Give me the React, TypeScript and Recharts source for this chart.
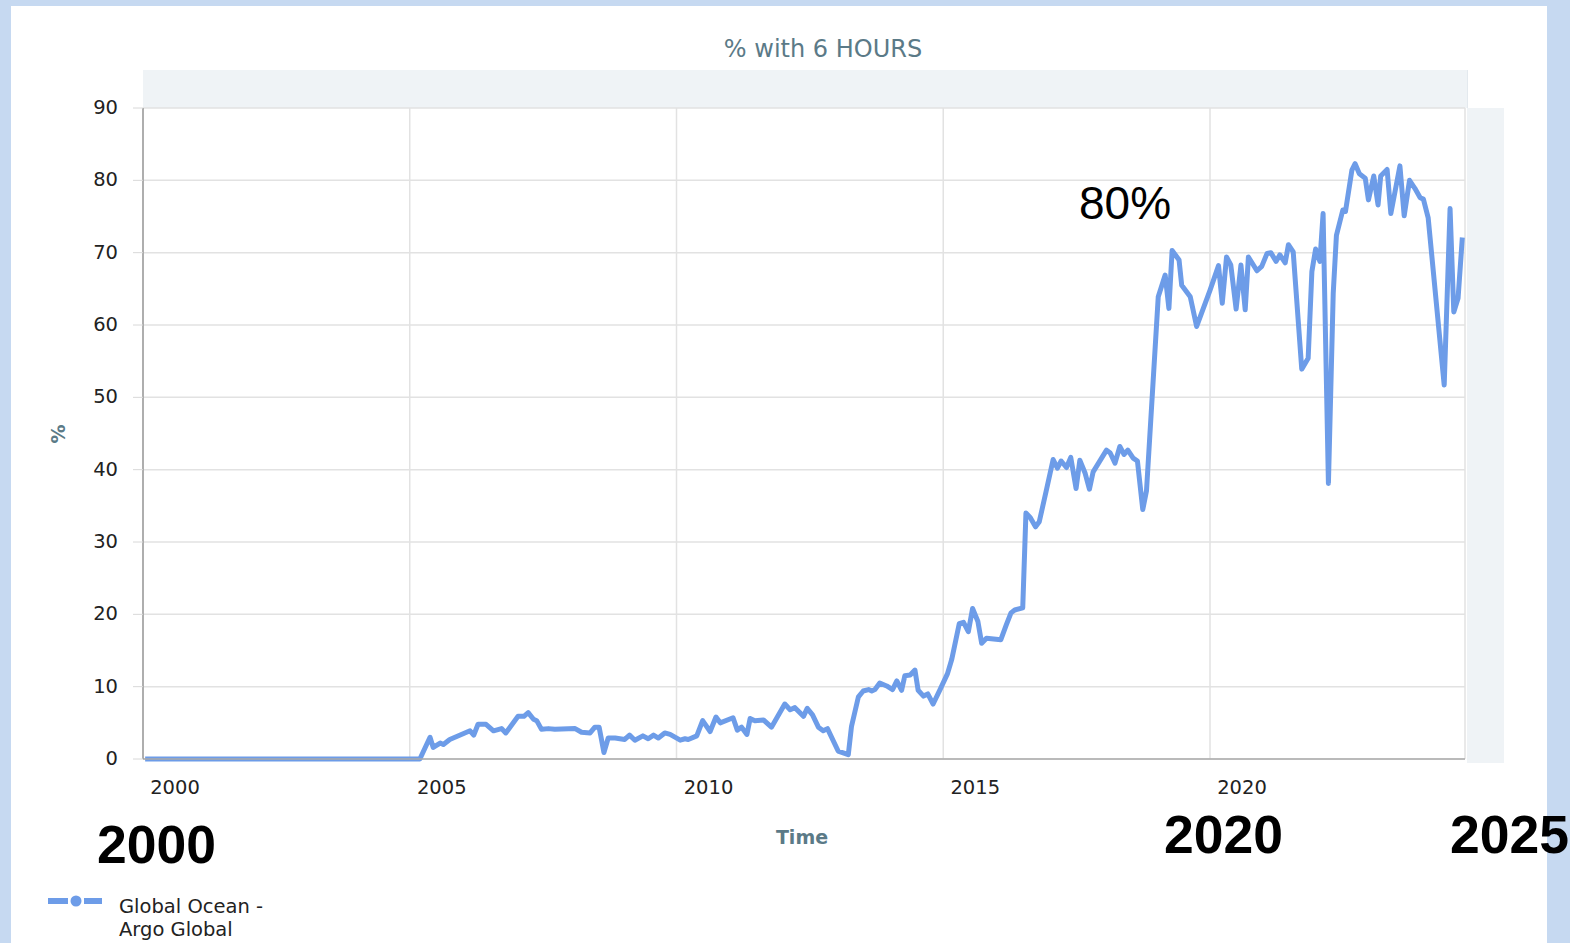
import React from 'react';
import { LineChart, Line, XAxis, YAxis, CartesianGrid, Legend } from 'recharts';

const years: number[] = [
  2000.04, 2005.19, 2005.38, 2005.44, 2005.57, 2005.63, 2005.75, 2006.0, 2006.13, 2006.2,
  2006.28, 2006.43, 2006.57, 2006.72, 2006.8, 2007.03, 2007.14, 2007.22, 2007.32, 2007.38,
  2007.47, 2007.6, 2007.72, 2008.1, 2008.22, 2008.38, 2008.47, 2008.55, 2008.64, 2008.72,
  2008.85, 2009.03, 2009.12, 2009.22, 2009.37, 2009.47, 2009.57, 2009.66, 2009.78, 2009.88,
  2010.07, 2010.16, 2010.22, 2010.38, 2010.49, 2010.63, 2010.74, 2010.82, 2011.06, 2011.14,
  2011.22, 2011.32, 2011.38, 2011.47, 2011.63, 2011.78, 2012.03, 2012.13, 2012.22, 2012.38,
  2012.45, 2012.55, 2012.66, 2012.75, 2012.83, 2013.03, 2013.22, 2013.28, 2013.41, 2013.5,
  2013.6, 2013.66, 2013.72, 2013.81, 2013.94, 2014.05, 2014.13, 2014.22, 2014.28, 2014.38,
  2014.47, 2014.53, 2014.63, 2014.71, 2014.81, 2014.94, 2015.08, 2015.16, 2015.3, 2015.38,
  2015.47, 2015.55, 2015.65, 2015.72, 2015.81, 2016.08, 2016.18, 2016.27, 2016.34, 2016.49,
  2016.55, 2016.63, 2016.73, 2016.8, 2016.94, 2017.06, 2017.14, 2017.21, 2017.31, 2017.39,
  2017.49, 2017.56, 2017.66, 2017.74, 2017.81, 2018.06, 2018.13, 2018.22, 2018.31, 2018.39,
  2018.46, 2018.56, 2018.64, 2018.74, 2018.81, 2019.03, 2019.16, 2019.23, 2019.29, 2019.42,
  2019.47, 2019.63, 2019.75, 2020.0, 2020.16, 2020.23, 2020.31, 2020.39, 2020.49, 2020.58,
  2020.66, 2020.72, 2020.88, 2020.97, 2021.07, 2021.14, 2021.24, 2021.31, 2021.41, 2021.47,
  2021.56, 2021.72, 2021.84, 2021.91, 2021.98, 2022.06, 2022.12, 2022.22, 2022.31, 2022.37,
  2022.49, 2022.54, 2022.66, 2022.72, 2022.8, 2022.91, 2022.97, 2023.07, 2023.15, 2023.2,
  2023.32, 2023.39, 2023.56, 2023.64, 2023.74, 2023.84, 2023.94, 2024.0, 2024.09, 2024.39,
  2024.5, 2024.57, 2024.65, 2024.73,
];

const pct: number[] = [
  0, 0, 3.0, 1.6, 2.2, 2.0, 2.7, 3.5, 3.9, 3.3,
  4.8, 4.8, 3.9, 4.2, 3.6, 5.9, 5.9, 6.4, 5.5, 5.3,
  4.1, 4.2, 4.1, 4.2, 3.7, 3.6, 4.4, 4.4, 0.9, 2.9,
  2.9, 2.7, 3.3, 2.6, 3.2, 2.8, 3.3, 2.9, 3.6, 3.4,
  2.6, 2.8, 2.7, 3.2, 5.3, 3.8, 5.8, 5.0, 5.7, 4.0,
  4.4, 3.4, 5.6, 5.3, 5.4, 4.4, 7.6, 6.8, 7.1, 5.9,
  7.0, 6.1, 4.4, 3.9, 4.2, 1.1, 0.6, 4.5, 8.6, 9.4,
  9.6, 9.4, 9.6, 10.5, 10.1, 9.6, 10.8, 9.5, 11.5, 11.6,
  12.3, 9.5, 8.7, 9.0, 7.6, 9.6, 11.8, 13.8, 18.7, 18.9,
  17.6, 20.8, 19.0, 16.0, 16.7, 16.5, 18.5, 20.2, 20.6, 20.9,
  34.0, 33.4, 32.1, 32.8, 37.4, 41.4, 40.2, 41.2, 40.3, 41.7,
  37.4, 41.3, 39.5, 37.3, 39.7, 42.7, 42.3, 40.9, 43.2, 42.1,
  42.7, 41.6, 41.2, 34.5, 37.1, 63.9, 66.9, 62.3, 70.3, 69.0,
  65.5, 63.9, 59.8, 64.8, 68.2, 63.0, 69.4, 68.3, 62.2, 68.3,
  62.1, 69.4, 67.5, 68.1, 69.9, 70.0, 68.8, 69.7, 68.6, 71.1,
  70.1, 53.9, 55.4, 67.4, 70.5, 68.8, 75.4, 38.1, 64.4, 72.4,
  75.9, 75.7, 81.4, 82.3, 80.9, 80.3, 77.3, 80.6, 76.6, 80.6,
  81.5, 75.4, 82.0, 75.1, 80.0, 78.9, 77.6, 77.4, 74.8, 51.7,
  76.1, 61.8, 63.7, 72.1,
];

const xTicks: number[] = [2000, 2005, 2010, 2015, 2020];
const yTicks: number[] = [0, 10, 20, 30, 40, 50, 60, 70, 80, 90];
const seriesName = 'Global Ocean - Argo Global';
const chartTitle = '% with 6 HOURS';

const data = years.map((t, i) => ({ t, v: pct[i] }));

const LINE_COLOR = '#6d9ce8';
const LABEL_COLOR = '#5b7a87';
const FONT = '"DejaVu Sans", Verdana, sans-serif';
const BIG_FONT = '"Liberation Sans", Arial, sans-serif';

const XTick = (props: any) => {
  const { x, y, payload } = props;
  return (
    <text x={x + 32} y={y + 35} textAnchor="middle" fontFamily={FONT} fontSize={19.5} fill="#222">
      {payload.value}
    </text>
  );
};

const YTick = (props: any) => {
  const { x, y, payload } = props;
  return (
    <text x={x - 15} y={y + 6} textAnchor="end" fontFamily={FONT} fontSize={19.5} fill="#222">
      {payload.value}
    </text>
  );
};

const LegendContent = () => (
  <div style={{ display: 'flex', alignItems: 'flex-start', fontFamily: FONT, fontSize: 19.5, color: '#222' }}>
    <svg width={60} height={24} style={{ flex: 'none', marginTop: -6 }}>
      <line x1={1} y1={12} x2={21} y2={12} stroke={LINE_COLOR} strokeWidth={6} />
      <circle cx={29} cy={12} r={5.5} fill={LINE_COLOR} />
      <line x1={37} y1={12} x2={55} y2={12} stroke={LINE_COLOR} strokeWidth={6} />
    </svg>
    <div style={{ marginLeft: 12, lineHeight: '23px', width: 200 }}>
      Global Ocean -<br />Argo Global
    </div>
  </div>
);

export default function App() {
  return (
    <div
      style={{
        position: 'absolute',
        left: 0,
        top: 0,
        width: 1570,
        height: 943,
        background: '#c6d9f1',
        overflow: 'hidden',
      }}
    >
      <div style={{ position: 'absolute', left: 11, top: 6, width: 1536, height: 937, background: '#ffffff' }} />
      <div
        style={{
          position: 'absolute',
          left: 143,
          top: 70,
          width: 1324,
          height: 38,
          background: '#eff3f6',
          borderRight: '1px solid #e3e9ee',
        }}
      />
      <div
        style={{
          position: 'absolute',
          left: 1467,
          top: 108,
          width: 37,
          height: 655,
          background: '#eff3f6',
        }}
      />
      <div style={{ position: 'absolute', left: 0, top: 0 }}>
        <LineChart
          width={1570}
          height={943}
          data={data}
          margin={{ top: 108, right: 105, left: 83, bottom: 144 }}
        >
          <CartesianGrid stroke="#e2e2e2" strokeWidth={1.5} />
          <XAxis
            dataKey="t"
            type="number"
            domain={[2000, 2024.78]}
            ticks={xTicks}
            allowDataOverflow
            height={40}
            tickSize={0}
            tickMargin={0}
            tickLine={false}
            axisLine={{ stroke: '#aaaaaa', strokeWidth: 1.5 }}
            tick={<XTick />}
          />
          <YAxis
            type="number"
            domain={[0, 90]}
            ticks={yTicks}
            width={60}
            tickSize={10}
            tickMargin={0}
            tickLine={{ stroke: '#d8d8d8' }}
            axisLine={{ stroke: '#9a9a9a', strokeWidth: 1.5 }}
            tick={<YTick />}
          />
          <Legend
            layout="horizontal"
            verticalAlign="middle"
            align="center"
            content={<LegendContent />}
            wrapperStyle={{ position: 'absolute', left: 47, top: 895, width: 320, height: 48 }}
          />
          <Line
            type="linear"
            dataKey="v"
            name={seriesName}
            stroke={LINE_COLOR}
            strokeWidth={5}
            strokeLinejoin="round"
            dot={false}
            isAnimationActive={false}
          />
        </LineChart>
      </div>
      <svg
        width={1570}
        height={943}
        style={{ position: 'absolute', left: 0, top: 0, pointerEvents: 'none' }}
      >
        <text x={823} y={57} textAnchor="middle" fontFamily={FONT} fontSize={24} fill={LABEL_COLOR}>
          {chartTitle}
        </text>
        <text
          x={65}
          y={434}
          textAnchor="middle"
          fontFamily={FONT}
          fontSize={19}
          fontWeight="bold"
          fill={LABEL_COLOR}
          transform="rotate(-90 65 434)"
        >
          %
        </text>
        <text x={802} y={844} textAnchor="middle" fontFamily={FONT} fontSize={19} fontWeight="bold" fill={LABEL_COLOR}>
          Time
        </text>
        <text x={1079} y={219} fontFamily={BIG_FONT} fontSize={46} fill="#000">
          80%
        </text>
        <text x={97} y={863} fontFamily={BIG_FONT} fontSize={53.5} fontWeight="bold" fill="#000">
          2000
        </text>
        <text x={1164} y={853} fontFamily={BIG_FONT} fontSize={53.5} fontWeight="bold" fill="#000">
          2020
        </text>
        <text x={1450} y={853} fontFamily={BIG_FONT} fontSize={53.5} fontWeight="bold" fill="#000">
          2025
        </text>
      </svg>
    </div>
  );
}
